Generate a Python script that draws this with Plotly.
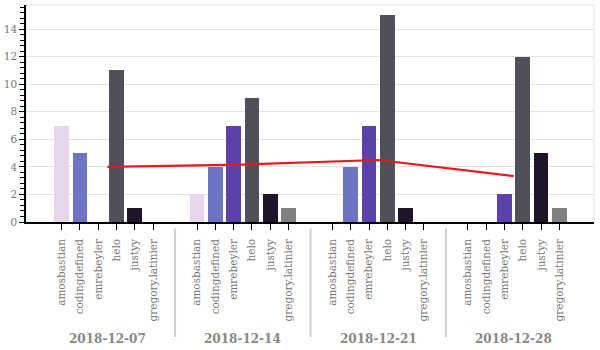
import plotly.graph_objects as go

weeks = ["2018-12-07", "2018-12-14", "2018-12-21", "2018-12-28"]
users = ["amosbastian", "codingdefined", "emrebeyler", "helo", "justyy", "gregory.latinier"]
counts = {
    "amosbastian":      [7, 2, 0, 0],
    "codingdefined":    [5, 4, 4, 0],
    "emrebeyler":       [0, 7, 7, 2],
    "helo":             [11, 9, 15, 12],
    "justyy":           [1, 2, 1, 5],
    "gregory.latinier": [0, 1, 0, 1],
}
colors = ["#e6d6eb", "#6e74c4", "#5b41a8", "#505058", "#1f1529", "#808080"]

GROUP_STEP = 7.4
FONT = "DejaVu Serif"

fig = go.Figure()
tickvals, ticktext = [], []
for ui, u in enumerate(users):
    xs = [g * GROUP_STEP + ui for g in range(len(weeks))]
    fig.add_trace(go.Bar(x=xs, y=counts[u], width=0.8, marker_color=colors[ui],
                         marker_line_width=0, showlegend=False, name=u))
for g in range(len(weeks)):
    for ui, u in enumerate(users):
        tickvals.append(g * GROUP_STEP + ui)
        ticktext.append(u)

centers = [g * GROUP_STEP + (len(users) - 1) / 2 for g in range(len(weeks))]
avg = [sum(counts[u][g] for u in users) / len(users) for g in range(len(weeks))]
fig.add_trace(go.Scatter(x=centers, y=avg, mode="lines", line=dict(color="#e8191c", width=2.2),
                         showlegend=False))

shapes = []
for g in range(1, len(weeks)):
    xd = (centers[g - 1] + centers[g]) / 2
    shapes.append(dict(type="line", xref="x", yref="paper", x0=xd, x1=xd, y0=-0.03, y1=-0.53,
                       line=dict(color="#d0d0d0", width=2)))
shapes.append(dict(type="rect", xref="paper", yref="paper", x0=0, x1=1, y0=0, y1=1,
                   line=dict(color="#e3e3e3", width=1), layer="below"))
annotations = []
for g, w in enumerate(weeks):
    annotations.append(dict(x=centers[g], y=-0.54, xref="x", yref="paper", text="<b>%s</b>" % w,
                            showarrow=False, yanchor="middle",
                            font=dict(family=FONT, size=12, color="#888888")))

fig.update_layout(
    width=600, height=350,
    margin=dict(l=26, r=6, t=5, b=128),
    paper_bgcolor="white", plot_bgcolor="white",
    bargap=0, shapes=shapes, annotations=annotations,
    font=dict(family=FONT, color="#777777"),
    xaxis=dict(range=[-1.945, 29.09], tickmode="array", tickvals=tickvals, ticktext=ticktext,
               tickangle=-90, ticks="outside", ticklen=6, tickcolor="black", showline=True,
               linecolor="black", linewidth=1.5, showgrid=False, zeroline=False,
               ticklabelstandoff=5,
               tickfont=dict(family=FONT, size=10.5, color="#777777")),
    yaxis=dict(range=[0, 15.75], dtick=2, tick0=0, ticks="outside", ticklen=5, tickcolor="black",
               showline=True, linecolor="black", linewidth=1.5, showgrid=True, gridcolor="#e3e3e3",
               zeroline=False, automargin=False,
               tickfont=dict(family=FONT, size=10.5, color="#777777"),
               minor=dict(dtick=0.4, ticks="outside", ticklen=4, tickcolor="black", showgrid=False)),
)

fig.write_html("out.html")
